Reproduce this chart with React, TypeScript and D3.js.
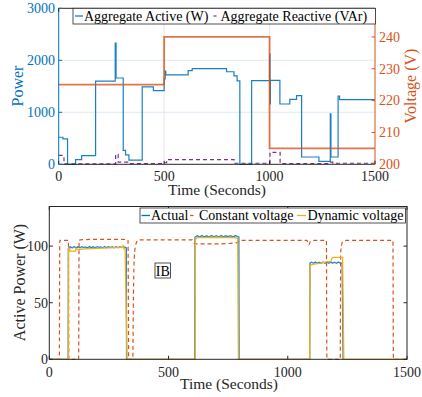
import React, { useEffect, useRef } from 'react';
import * as d3 from 'd3';

// ---- top panel: aggregate power + supply voltage (step series) ----
const activeTime = [0, 20, 42, 80, 109, 175, 268, 272, 306, 317, 333, 396, 449, 500, 505, 508, 614, 633, 796, 831, 846, 859, 915, 1000, 1002, 1004, 1049, 1096, 1128, 1152, 1234, 1288, 1291, 1325, 1332, 1500];
const activeW = [520, 490, 0, 90, 165, 1600, 2330, 1660, 268, 180, 80, 1490, 1415, 1640, 1790, 1720, 1800, 1840, 1780, 1700, 1606, 0, 1610, 2120, 1160, 1615, 1160, 1250, 1320, 140, 55, 970, 140, 1310, 1245, 1245];

const reactiveTime = [0, 25, 270, 282, 330, 500, 512, 832, 1002, 1050, 1288, 1300, 1500];
const reactiveVAr = [170, 10, 190, 40, 15, 30, 90, 20, 230, 15, 40, 20, 15];

const voltageTime = [0, 500, 1000, 1500];
const voltageV = [225, 240, 205, 205];

// ---- bottom panel: active power (W) ----
const actualTime = [0, 79, 80, 88, 96, 104, 112, 120, 128, 136, 144, 152, 160, 168, 176, 184, 192, 200, 208, 216, 224, 232, 240, 248, 256, 264, 272, 280, 288, 296, 304, 312, 320, 323, 324,
  610, 611, 620, 630, 640, 650, 660, 670, 680, 690, 700, 710, 720, 730, 740, 750, 760, 770, 780, 790, 795, 796,
  1092, 1093, 1100, 1108, 1116, 1124, 1132, 1140, 1148, 1156, 1164, 1172, 1180, 1188, 1196, 1204, 1212, 1220, 1228, 1232, 1233, 1500];
const actualW = [0, 0, 98, 99.5, 98.4, 99.6, 98.6, 99.4, 98.5, 99.5, 98.7, 99.3, 98.4, 99.6, 98.6, 99.4, 98.5, 99.5, 98.8, 99.3, 98.5, 99.6, 98.6, 99.4, 98.7, 99.5, 98.5, 99.4, 98.6, 99.5, 98.7, 99.3, 98.8, 98.5, 0,
  0, 108, 109.2, 108.1, 109.3, 108.2, 109.1, 108, 109.3, 108.2, 109.2, 108.1, 109.3, 108.2, 109.1, 108.3, 109.2, 108.1, 109.3, 108.4, 108, 0,
  0, 85, 85.8, 84.9, 85.9, 84.8, 85.8, 84.9, 85.9, 84.8, 85.8, 84.9, 85.9, 84.8, 85.8, 84.9, 85.9, 85, 85, 0, 0];

const constTime = [0, 42, 44, 80, 82, 123, 125, 130, 200, 300, 330, 333, 350, 353, 358, 365, 375, 600, 605, 615, 700, 790, 800, 1080, 1088, 1095, 1110, 1162, 1164, 1220, 1222, 1230, 1245, 1441, 1443, 1500];
const constW = [0, 0, 105, 105, 0, 0, 105, 105.5, 106, 106, 105.5, 0, 0, 60, 95, 103, 105.5, 105.5, 103, 102, 102, 103, 105, 105, 101, 104, 105, 105, 0, 0, 95, 104, 105, 105, 0, 0];

const dynTime = [0, 80, 81, 86, 87, 110, 112, 120, 150, 200, 250, 300, 308, 310, 312, 318, 326, 612, 613, 620, 700, 780, 790, 793, 1092, 1093, 1110, 1140, 1160, 1180, 1186, 1190, 1230, 1235, 1500];
const dynW = [0, 0, 98, 98, 95.5, 95.5, 98, 97, 97.5, 98, 98.5, 98.8, 99, 101, 98, 97, 0, 0, 106, 107.5, 107.8, 107.5, 106.5, 0, 0, 83, 84, 85, 86, 86.5, 89.5, 90, 90, 0, 0];

const timeTicks = [0, 500, 1000, 1500];
const powerTicks = [0, 1000, 2000, 3000];
const voltTicks = [200, 210, 220, 230, 240];
const activeTicks = [0, 50, 100];

const BLUE = '#0072BD';
const ORANGE = '#D95319';
const YELLOW = '#EDB120';
const PURPLE = '#7E2F8E';
const AXIS = '#262626';
const FONT = '"Liberation Serif", "Times New Roman", serif';

export default function App() {
  const svgRef = useRef<SVGSVGElement>(null);

  useEffect(() => {
    if (!svgRef.current) return;
    const svg = d3.select(svgRef.current);
    svg.selectAll('*').remove();
    svg.style('font-family', FONT);

    const pts = (ts: number[], vs: number[]) => ts.map((t, i) => [t, vs[i]] as [number, number]);

    // ================= TOP PANEL =================
    const x1 = d3.scaleLinear().domain([0, 1500]).range([58.7, 375]);
    const yP = d3.scaleLinear().domain([0, 3000]).range([164.3, 8.3]);
    const yV = d3.scaleLinear().domain([200, 249]).range([164.3, 8.3]);
    const top = svg.append('g');

    // grid
    top.selectAll('.hg').data([1000, 2000]).enter().append('line')
      .attr('x1', x1(0)).attr('x2', x1(1500))
      .attr('y1', d => yP(d)).attr('y2', d => yP(d))
      .attr('stroke', '#d3e4f1').attr('stroke-width', 0.8);
    top.selectAll('.vg').data([500, 1000]).enter().append('line')
      .attr('y1', yP(0)).attr('y2', yP(3000))
      .attr('x1', d => x1(d)).attr('x2', d => x1(d))
      .attr('stroke', '#e0e0e0').attr('stroke-width', 0.8);

    const stepP = d3.line<[number, number]>().x(d => x1(d[0])).y(d => yP(d[1])).curve(d3.curveStepAfter);
    const stepV = d3.line<[number, number]>().x(d => x1(d[0])).y(d => yV(d[1])).curve(d3.curveStepAfter);

    top.append('path').attr('d', stepP(pts(reactiveTime, reactiveVAr)))
      .attr('fill', 'none').attr('stroke', PURPLE).attr('stroke-width', 1.2).attr('stroke-dasharray', '4,3');
    top.append('path').attr('d', stepP(pts(activeTime, activeW)))
      .attr('fill', 'none').attr('stroke', BLUE).attr('stroke-width', 1.2).attr('opacity', 0.9);
    top.append('path').attr('d', stepV(pts(voltageTime, voltageV)))
      .attr('fill', 'none').attr('stroke', ORANGE).attr('stroke-width', 1.8).attr('opacity', 0.8);

    // axes frame
    top.append('line').attr('x1', x1(0)).attr('x2', x1(1500)).attr('y1', yP(0)).attr('y2', yP(0)).attr('stroke', AXIS);
    top.append('line').attr('x1', x1(0)).attr('x2', x1(1500)).attr('y1', yP(3000)).attr('y2', yP(3000)).attr('stroke', AXIS);
    top.append('line').attr('x1', x1(0)).attr('x2', x1(0)).attr('y1', yP(0)).attr('y2', yP(3000)).attr('stroke', BLUE);
    top.append('line').attr('x1', x1(1500)).attr('x2', x1(1500)).attr('y1', yP(0)).attr('y2', yP(3000)).attr('stroke', ORANGE);

    // x ticks
    timeTicks.forEach(t => {
      top.append('line').attr('x1', x1(t)).attr('x2', x1(t)).attr('y1', yP(0)).attr('y2', yP(0) - 3.5).attr('stroke', AXIS);
      top.append('line').attr('x1', x1(t)).attr('x2', x1(t)).attr('y1', yP(3000)).attr('y2', yP(3000) + 3.5).attr('stroke', AXIS);
      top.append('text').attr('x', x1(t)).attr('y', 180.8).attr('text-anchor', 'middle')
        .attr('font-size', 14).attr('fill', AXIS).text(t);
    });
    powerTicks.forEach(v => {
      top.append('line').attr('x1', x1(0)).attr('x2', x1(0) + 3.5).attr('y1', yP(v)).attr('y2', yP(v)).attr('stroke', BLUE);
      top.append('text').attr('x', 55).attr('y', yP(v) + 4.8).attr('text-anchor', 'end')
        .attr('font-size', 14).attr('fill', BLUE).text(v);
    });
    voltTicks.forEach(v => {
      top.append('line').attr('x1', x1(1500)).attr('x2', x1(1500) - 3.5).attr('y1', yV(v)).attr('y2', yV(v)).attr('stroke', ORANGE);
      top.append('text').attr('x', 379).attr('y', yV(v) + 4.8).attr('text-anchor', 'start')
        .attr('font-size', 14).attr('fill', ORANGE).text(v);
    });

    top.append('text').attr('x', 217).attr('y', 195).attr('text-anchor', 'middle')
      .attr('font-size', 15.5).attr('fill', AXIS).text('Time (Seconds)');
    top.append('text').attr('transform', 'translate(23,86) rotate(-90)').attr('text-anchor', 'middle')
      .attr('font-size', 16).attr('fill', BLUE).text('Power');
    top.append('text').attr('transform', 'translate(415.5,86) rotate(-90)').attr('text-anchor', 'middle')
      .attr('font-size', 16).attr('fill', ORANGE).text('Voltage (V)');

    // legend
    const lg1 = top.append('g');
    lg1.append('rect').attr('x', 73).attr('y', 8.3).attr('width', 302.5).attr('height', 15.7)
      .attr('fill', 'white').attr('stroke', AXIS).attr('stroke-width', 0.8);
    lg1.append('line').attr('x1', 75).attr('x2', 83).attr('y1', 16).attr('y2', 16).attr('stroke', BLUE).attr('stroke-width', 1.2);
    lg1.append('text').attr('x', 84).attr('y', 21).attr('font-size', 14).attr('fill', '#000').text('Aggregate Active (W)');
    lg1.append('line').attr('x1', 213.5).attr('x2', 221).attr('y1', 16).attr('y2', 16).attr('stroke', PURPLE)
      .attr('stroke-width', 1.2).attr('stroke-dasharray', '3,6');
    lg1.append('text').attr('x', 220.5).attr('y', 21).attr('font-size', 14).attr('fill', '#000').text('Aggregate Reactive (VAr)');

    // ================= BOTTOM PANEL =================
    const x2 = d3.scaleLinear().domain([0, 1500]).range([49.3, 407]);
    const yA = d3.scaleLinear().domain([0, 135]).range([359.3, 206.5]);
    const bot = svg.append('g');

    const lin = d3.line<[number, number]>().x(d => x2(d[0])).y(d => yA(d[1]));
    const smooth = d3.line<[number, number]>().x(d => x2(d[0])).y(d => yA(d[1])).curve(d3.curveMonotoneX);

    bot.append('path').attr('d', lin(pts(actualTime, actualW)))
      .attr('fill', 'none').attr('stroke', BLUE).attr('stroke-width', 1.3).attr('opacity', 0.85);
    bot.append('path').attr('d', smooth(pts(constTime, constW)))
      .attr('fill', 'none').attr('stroke', ORANGE).attr('stroke-width', 1.2).attr('stroke-dasharray', '4,3');
    bot.append('path').attr('d', lin(pts(dynTime, dynW)))
      .attr('fill', 'none').attr('stroke', YELLOW).attr('stroke-width', 1.3);

    bot.append('rect').attr('x', x2(0)).attr('y', yA(135)).attr('width', x2(1500) - x2(0)).attr('height', yA(0) - yA(135))
      .attr('fill', 'none').attr('stroke', AXIS).attr('stroke-width', 1);

    timeTicks.forEach(t => {
      bot.append('line').attr('x1', x2(t)).attr('x2', x2(t)).attr('y1', yA(0)).attr('y2', yA(0) - 3.5).attr('stroke', AXIS);
      bot.append('line').attr('x1', x2(t)).attr('x2', x2(t)).attr('y1', yA(135)).attr('y2', yA(135) + 3.5).attr('stroke', AXIS);
      bot.append('text').attr('x', x2(t)).attr('y', 376.5).attr('text-anchor', 'middle')
        .attr('font-size', 14).attr('fill', AXIS).text(t);
    });
    activeTicks.forEach(v => {
      bot.append('line').attr('x1', x2(0)).attr('x2', x2(0) + 3.5).attr('y1', yA(v)).attr('y2', yA(v)).attr('stroke', AXIS);
      bot.append('line').attr('x1', x2(1500)).attr('x2', x2(1500) - 3.5).attr('y1', yA(v)).attr('y2', yA(v)).attr('stroke', AXIS);
      bot.append('text').attr('x', 48).attr('y', yA(v) + 4.8).attr('text-anchor', 'end')
        .attr('font-size', 14).attr('fill', AXIS).text(v);
    });

    bot.append('text').attr('x', 229).attr('y', 389).attr('text-anchor', 'middle')
      .attr('font-size', 15.5).attr('fill', AXIS).text('Time (Seconds)');
    bot.append('text').attr('transform', 'translate(24.5,282.5) rotate(-90)').attr('text-anchor', 'middle')
      .attr('font-size', 16).attr('fill', AXIS).text('Active Power (W)');

    // IB annotation
    bot.append('rect').attr('x', 155).attr('y', 263).attr('width', 15.5).attr('height', 15)
      .attr('fill', 'none').attr('stroke', AXIS).attr('stroke-width', 0.8);
    bot.append('text').attr('x', 162.8).attr('y', 275.5).attr('text-anchor', 'middle')
      .attr('font-size', 14).attr('fill', '#000').text('IB');

    // legend
    const lg2 = bot.append('g');
    lg2.append('rect').attr('x', 140).attr('y', 208).attr('width', 265.5).attr('height', 15)
      .attr('fill', 'white').attr('stroke', AXIS).attr('stroke-width', 0.8);
    lg2.append('line').attr('x1', 141.5).attr('x2', 150).attr('y1', 215.5).attr('y2', 215.5).attr('stroke', BLUE).attr('stroke-width', 1.3);
    lg2.append('text').attr('x', 151).attr('y', 220.3).attr('font-size', 14).attr('fill', '#000').text('Actual');
    lg2.append('line').attr('x1', 190).attr('x2', 198).attr('y1', 215.5).attr('y2', 215.5).attr('stroke', ORANGE)
      .attr('stroke-width', 1.2).attr('stroke-dasharray', '3.5,6');
    lg2.append('text').attr('x', 199).attr('y', 220.3).attr('font-size', 14).attr('fill', '#000').text('Constant voltage');
    lg2.append('line').attr('x1', 297).attr('x2', 306).attr('y1', 215.5).attr('y2', 215.5).attr('stroke', YELLOW).attr('stroke-width', 1.3);
    lg2.append('text').attr('x', 307.5).attr('y', 220.3).attr('font-size', 14).attr('fill', '#000').text('Dynamic voltage');
  }, []);

  return (
    <svg ref={svgRef} width={422} height={397}
      style={{ position: 'absolute', left: 0, top: 0, background: 'white' }} />
  );
}
